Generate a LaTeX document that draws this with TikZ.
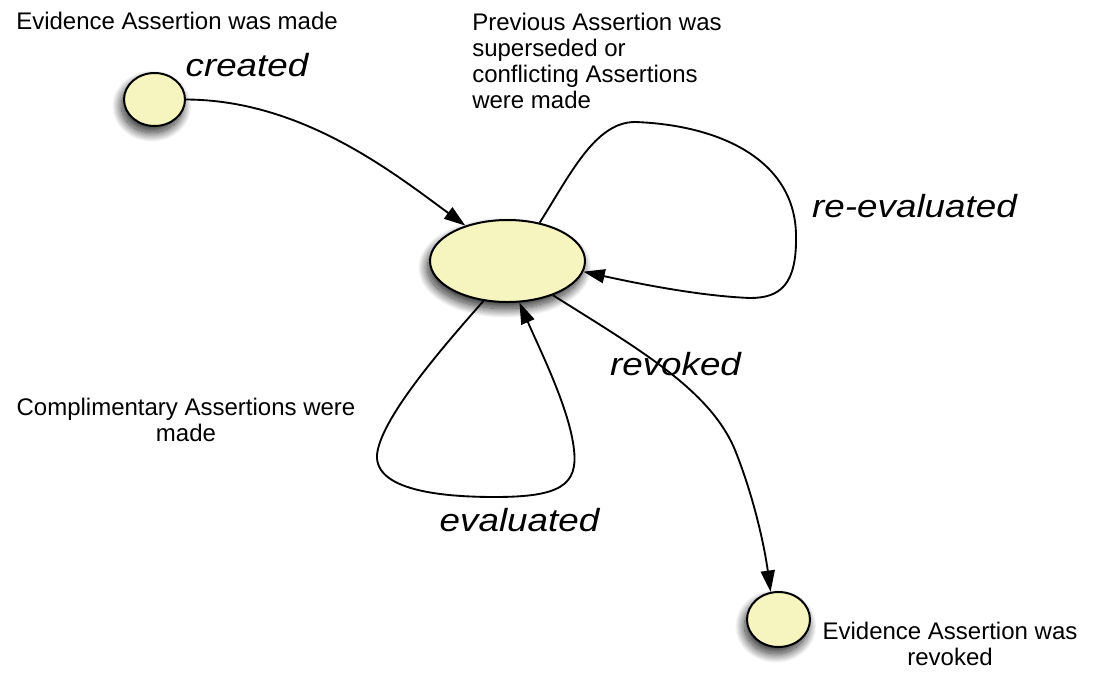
\documentclass[tikz,border=0pt]{standalone}
\usepackage{fontspec}
\setmainfont{Liberation Sans}
\newfontfamily\labfont{Liberation Sans}[FakeStretch=1.15]
\usetikzlibrary{shapes.geometric,arrows.meta,shadows.blur}
\definecolor{statefill}{RGB}{246,245,192}
\begin{document}
\begin{tikzpicture}[x=0.75pt,y=-0.75pt,
  state/.style={ellipse, draw=black, line width=1.5pt, fill=statefill, inner sep=0pt,
    blur shadow={shadow xshift=-2pt, shadow yshift=-5pt, shadow blur radius=7pt, shadow blur steps=30, shadow opacity=85}},
  edge/.style={line width=1.4pt, -{Triangle[length=16pt,width=10.5pt]}},
  desc/.style={font=\fontsize{18}{19.4}\selectfont, inner sep=0pt},
  lab/.style={font=\labfont\itshape\fontsize{24}{28}\selectfont, inner sep=0pt, anchor=base}]
\path[use as bounding box] (0,0) rectangle (1094,675);
% states
\node[state, minimum width=45.75pt, minimum height=39.75pt] (c) at (154.5,99.5) {};
\node[state, minimum width=116.25pt, minimum height=61.5pt] (e) at (507.5,261) {};
\node[state, minimum width=47.25pt, minimum height=41.25pt] (r) at (778.5,619.5) {};
% descriptions
\node[desc, anchor=base west] (t1) at (16,29) {Evidence Assertion was made};
\node[desc, anchor=north west, align=left] (t2) at (472,13) {Previous Assertion was\\superseded or\\conflicting Assertions\\were made};
\node[desc, anchor=north, align=center] (t3) at (186,398) {Complimentary Assertions were\\made};
\node[desc, anchor=north, align=center] (t4) at (950,622) {Evidence Assertion was\\revoked};
% labels
\node[lab] (l1) at (247,76) {created};
\node[lab] (l2) at (914.5,217) {re-evaluated};
\node[lab] (l3) at (675.5,375) {revoked};
\node[lab] (l4) at (519.5,531) {evaluated};
% connectors
\draw[edge] (c.0) .. controls (300,100) and (390,170) .. (e.140);
\draw[edge] (e.50) .. controls (570,175) and (595,122) .. (635,122)
  .. controls (720,125) and (795,160) .. (796,235)
  .. controls (797,285) and (780,298) .. (750,298)
  .. controls (700,296) and (640,284) .. (e.-8);
\draw[edge] (e.-121) .. controls (440,350) and (380,420) .. (377,455)
  .. controls (375,490) and (440,497) .. (495,497)
  .. controls (560,497) and (578,485) .. (574,450)
  .. controls (570,410) and (540,350) .. (e.-74);
\draw[edge] (e.-37) .. controls (640,350) and (710,390) .. (735,450)
  .. controls (755,500) and (765,550) .. (r.106);
\end{tikzpicture}
\end{document}
